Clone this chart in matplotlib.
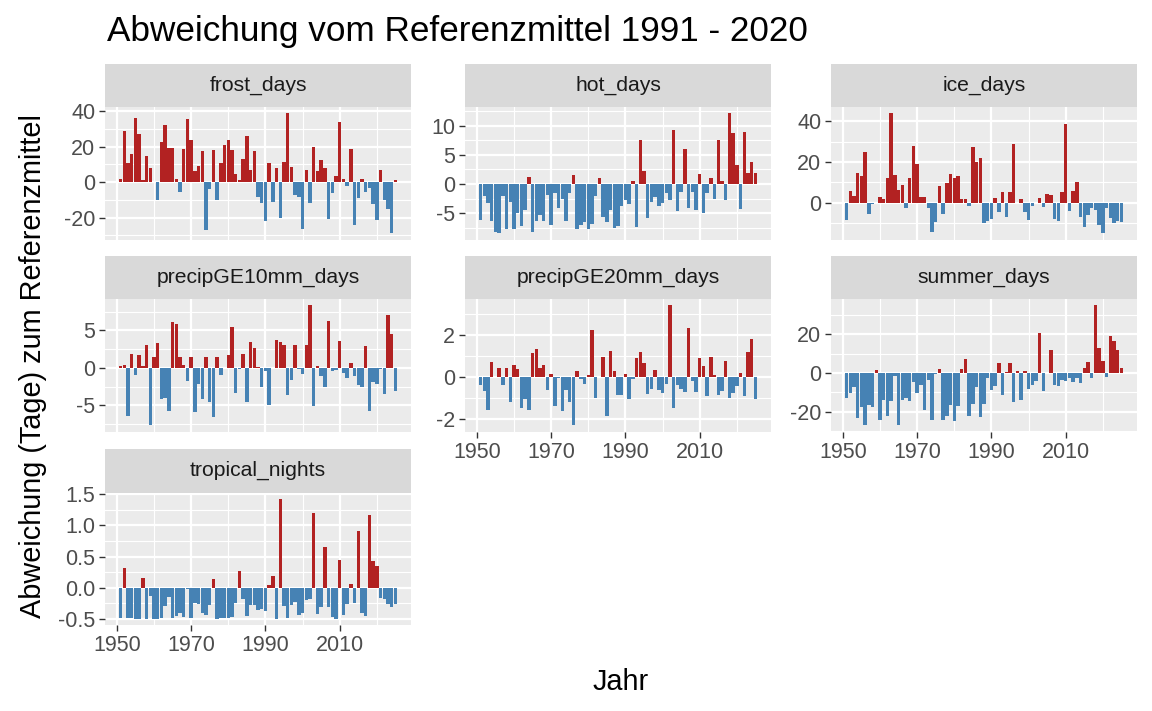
import matplotlib
matplotlib.use("Agg")
import matplotlib.pyplot as plt
import numpy as np

plt.rcParams['font.family'] = ['Liberation Sans', 'DejaVu Sans']
plt.rcParams['axes.unicode_minus'] = False

years = list(range(1951, 2026))

frost_days = [2, 29, 11, 16, 36, 27, 1, 15, 8, 0,
              -10, 22.5, 32, 19, 19.5, 2, -5.5, 18.5, 35.5, 24,
              6.5, 9, 17.5, -27, -4, 18, -10, 11, 21, 24,
              18, 4.5, 1, 13, 26, 7, 17.5, -8.5, -12, -22,
              11, -11, 8, -20.5, 11.5, 39, 8.5, -7, -8.5, -26.5,
              7, -12, 20, 6.5, 12.5, 8, -21, -6, 3.5, 34,
              1.5, -2, 18.5, -24, -9, 1.5, -5.5, -3.5, -12.5, -21.5,
              7, -10, -15, -29, 1]

hot_days = [-6.2, -2.0, -3.3, -6.3, -8.2, -8.5, -2.1, -7.7, -3.1, -7.7,
            -4.9, -7.2, -4.4, 1.2, -8.2, -6.3, -5.4, -6.3, -1.9, -7.0,
            -1.6, -4.2, -2.6, -6.3, -1.6, 1.6, -7.8, -7.0, -6.6, -7.8,
            -6.8, -2.1, 1.0, -5.7, -6.6, -4.5, -7.5, -7.2, -3.7, -2.7,
            -3.4, 0.6, -7.4, 7.6, 2.2, -5.8, -3.1, -2.3, -3.7, -3.3,
            -1.5, -2.7, 9.3, -4.7, -1.3, 6.1, -4.2, -1.4, -4.5, 1.7,
            -5.0, -1.6, 1.0, -2.5, 7.6, 0.6, -2.8, 12.2, 8.8, 3.2,
            -4.3, 9.0, 1.9, 3.8, 1.9]

ice_days = [-8.4, 5.8, 3.3, 14.7, 13.2, 24.6, -5.5, -0.5, 0, 2.8,
            1.7, 12.3, 44, 13.7, 6.3, 8.8, -2.5, 12, 28, 19,
            2.8, 2.8, -2.5, -14.5, -9.5, 8.3, -5.5, 9.8, 14.2, 12.3,
            13.2, 1.7, 1.7, -1.7, 27.5, 19.8, 22, -10, -9, -8.2,
            2.3, -4.8, 5.4, -7.2, 5.4, 28.7, 0, 1.5, -4.8, -8.7,
            -1.8, 0, 2.0, -2.3, 4.0, 3.5, -8.2, -9.2, 5.4, 38.5,
            -4.3, 5.9, 9.9, -7.2, -12.2, -6.3, -2.8, -3.8, -11.2, -15.2,
            -2.8, -7.7, -10.2, -9.2, -9.7]

precipGE10mm_days = [0.2, 0.4, -6.4, 1.9, -0.9, 1.7, 0.3, 3.0, -7.7, 1.4,
                     3.3, -4.2, -4.0, -5.8, 6.1, 5.9, 1.5, 0.4, -1.8, 1.5,
                     -5.9, -2.2, -4.1, 1.4, -4.6, -6.6, 1.4, -1.0, 0, 1.7,
                     5.5, -3.3, -0.1, 1.8, -4.5, 3.4, 2.6, 0.1, -2.6, -0.4,
                     -4.9, 0, 3.7, 3.5, 3.0, -3.6, -1.6, 3.0, -0.1, -0.8,
                     3.0, 8.4, -5.1, 0.2, -1.1, -2.5, 6.3, -0.4, -0.3, 3.6,
                     -0.7, -1.4, 0.6, -1.1, -2.3, -2.5, 2.9, -5.7, -1.9, -2.1,
                     -0.2, -3.5, 7.0, 4.5, -3.1]

precipGE20mm_days = [-0.35, -0.65, -1.55, 0.72, 0, 0.45, -0.38, 0.45, -1.2, 0.6,
                     0.4, -1.45, -1.05, -1.55, 1.15, 1.35, 0.45, 0.6, -0.6, 0.15,
                     -1.35, -0.05, -1.6, -0.6, -1.2, -2.3, 0.3, -0.1, -0.3, 0.1,
                     2.25, -1.0, 0, 0.95, -1.85, 1.25, 0.3, -0.85, -0.85, 0.15,
                     -1.05, -0.1, 0.9, 1.2, 0.7, -0.8, -0.55, 0.35, -0.6, -0.75,
                     -0.3, 3.45, -1.45, -0.35, -0.55, -0.7, 2.35, -0.2, -0.7, 0.9,
                     0.55, -0.9, 0.95, 0.1, -0.85, -0.65, 0.8, -1.0, -0.75, -0.4,
                     0.2, -0.9, 1.2, 1.85, -1.05]

summer_days = [-13, -10.4, -7.3, -23, -17.7, -27, -16.3, -17.7, 1.5, -24,
               -14, -22, -14.6, -1.6, -27, -14, -13, -14.6, -4.7, -10.5,
               -6.4, -18.8, -3.7, -24, -0.5, 2, -24, -22, -16.3, -24.7,
               -17.2, 2, 7.2, -22, -16, -7.3, -22.5, -16, -2.7, -8.7,
               -6.6, 5, -11.5, 0.5, 5, -15, 1, -14, 1, -8.3,
               -6, -4.2, 20.5, -9.5, 0, 11.8, -6.2, -6.5, -3.6, -4,
               -2.5, -4.5, -2.8, -5, 2.5, 5.5, -2.5, 35, 13, 6,
               -2, 19.2, 16.5, 12, 2.5]

tropical_nights = [-0.48, 0.32, -0.48, -0.48, -0.5, -0.5, 0.15, -0.5, -0.13, -0.5,
                   -0.5, -0.48, -0.3, -0.15, -0.48, -0.45, -0.4, -0.47, -0.02, -0.48,
                   -0.25, -0.26, -0.4, -0.44, -0.28, 0.14, -0.5, -0.48, -0.48, -0.48,
                   -0.47, -0.25, 0.27, -0.18, -0.45, -0.27, -0.28, -0.35, -0.34, -0.37,
                   0.04, 0.19, -0.5, 1.43, -0.29, -0.48, -0.27, -0.23, -0.44, -0.4,
                   -0.19, -0.18, 1.2, -0.42, -0.31, 0.66, -0.31, -0.47, -0.5, 0.45,
                   -0.44, -0.26, 0.06, -0.24, 0.91, -0.4, -0.45, 1.16, 0.43, 0.35,
                   -0.16, -0.18, -0.26, -0.31, -0.26]

panel_names = ["frost_days", "hot_days", "ice_days", "precipGE10mm_days",
               "precipGE20mm_days", "summer_days", "tropical_nights"]
panel_values = [frost_days, hot_days, ice_days, precipGE10mm_days,
                precipGE20mm_days, summer_days, tropical_nights]
y_tick_values = [[-20, 0, 20, 40], [-5, 0, 5, 10], [0, 20, 40], [-5, 0, 5],
                 [-2, 0, 2], [-20, 0, 20], [-0.5, 0.0, 0.5, 1.0, 1.5]]
x_tick_values = [1950, 1970, 1990, 2010]

title = "Abweichung vom Referenzmittel 1991 - 2020"
x_title = "Jahr"
y_title = "Abweichung (Tage) zum Referenzmittel"

RED = "#B22222"
BLUE = "#4682B4"
PANEL_BG = "#EBEBEB"
STRIP_BG = "#D9D9D9"

W, H = 1152, 711
fig = plt.figure(figsize=(W / 100, H / 100), dpi=100)
fig.patch.set_facecolor("white")

col_x = [105, 465, 831]
pw = 306
row_top = [107, 299, 492.5]
ph = 132.5
strip_h = 43.5
bottom_panels = {4, 5, 6}

width = 0.9
xr = (min(years) - width / 2, max(years) + width / 2)
xpad = 0.05 * (xr[1] - xr[0])
xlim = (xr[0] - xpad, xr[1] + xpad)


def minor_between(majors, lim):
    majors = sorted(majors)
    step = majors[1] - majors[0]
    ext = [majors[0] - step] + majors + [majors[-1] + step]
    mids = [(a + b) / 2 for a, b in zip(ext[:-1], ext[1:])]
    return [m for m in mids if lim[0] <= m <= lim[1]]


for i, (name, vals) in enumerate(zip(panel_names, panel_values)):
    r, c = divmod(i, 3)
    left = col_x[c]
    top = row_top[r]
    ax = fig.add_axes([left / W, 1 - (top + ph) / H, pw / W, ph / H])
    ax.set_facecolor(PANEL_BG)
    v = np.array(vals, dtype=float)
    colors = [RED if x > 0 else BLUE for x in v]
    ax.bar(years, v, width=width, color=colors, linewidth=0, zorder=2)

    lo = min(0, v.min())
    hi = max(0, v.max())
    pad = 0.05 * (hi - lo)
    ylim = (lo - pad, hi + pad)
    ax.set_ylim(ylim)
    ax.set_xlim(xlim)

    yt = y_tick_values[i]
    ax.set_yticks(yt)
    if name == "tropical_nights":
        ax.set_yticklabels([f"{t:.1f}" for t in yt])
    else:
        ax.set_yticklabels([f"{t:g}" for t in yt])
    ax.set_yticks(minor_between(yt, ylim), minor=True)
    ax.set_xticks(x_tick_values)
    ax.set_xticks(minor_between(x_tick_values, xlim), minor=True)

    ax.set_axisbelow(True)
    ax.grid(which="major", color="white", linewidth=1.6, zorder=0)
    ax.grid(which="minor", color="white", linewidth=0.8, zorder=0)
    for s in ax.spines.values():
        s.set_visible(False)

    ax.tick_params(axis="y", which="major", length=4.5, width=1.0, color="#333333",
                   labelsize=15.5, labelcolor="#4D4D4D", pad=2.5)
    ax.tick_params(which="minor", length=0)
    if i in bottom_panels:
        ax.tick_params(axis="x", which="major", length=4.5, width=1.0, color="#333333",
                       labelsize=15.5, labelcolor="#4D4D4D", pad=3.0)
    else:
        ax.tick_params(axis="x", which="major", length=0, labelbottom=False)

    sax = fig.add_axes([left / W, 1 - top / H, pw / W, strip_h / H])
    sax.set_facecolor(STRIP_BG)
    sax.set_xticks([])
    sax.set_yticks([])
    for s in sax.spines.values():
        s.set_visible(False)
    sax.text(0.5, 0.5, name, ha="center", va="center", fontsize=15.2,
             color="#1A1A1A", transform=sax.transAxes)

fig.text(107 / W, 1 - 41 / H, title, ha="left", va="baseline", fontsize=25.3, color="black")
fig.text(621 / W, 1 - 690 / H, x_title, ha="center", va="baseline", fontsize=20.8, color="black")
fig.text(33 / W, 1 - 366 / H, y_title, ha="center", va="center", rotation=90,
         fontsize=20.8, color="black")

fig.savefig("out.png", dpi=100, facecolor="white")
